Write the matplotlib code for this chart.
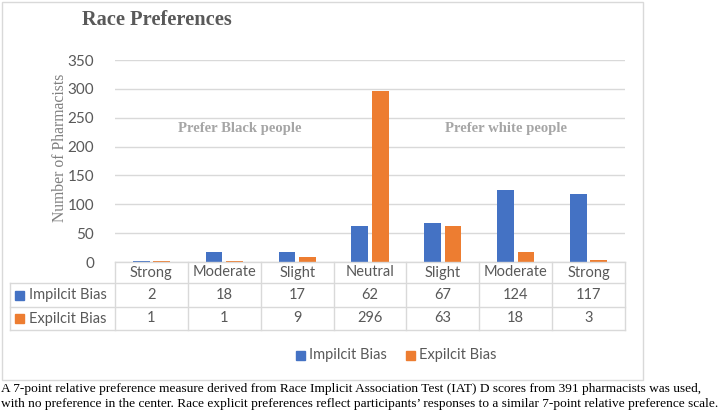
import numpy as np
import matplotlib.pyplot as plt
from matplotlib.patches import Rectangle
from matplotlib.lines import Line2D

categories = ["Strong", "Moderate", "Slight", "Neutral", "Slight", "Moderate", "Strong"]
implicit = [2, 18, 17, 62, 67, 124, 117]
explicit = [1, 1, 9, 296, 63, 18, 3]
series_names = ["Impilcit Bias", "Expilcit Bias"]
yticks = [0, 50, 100, 150, 200, 250, 300, 350]

blue = "#4472C4"
orange = "#ED7D31"
grey_text = "#595959"
grid_col = "#D9D9D9"
sans = "Lato"

W, H = 721, 417
fig = plt.figure(figsize=(W / 100, H / 100), dpi=100)

def fx(px):
    return px / W

def fy(py):
    return 1 - py / H

# outer chart border
fig.add_artist(Rectangle((fx(2), fy(380)), fx(641), fy(2) - fy(380), transform=fig.transFigure,
                         fill=False, edgecolor=grid_col, linewidth=1))

ax = fig.add_axes([fx(115), fy(262), fx(625) - fx(115), fy(60) - fy(262)])
x = np.arange(len(categories))
bw = 0.23
ax.bar(x - 0.14, implicit, bw, color=blue, label=series_names[0])
ax.bar(x + 0.14, explicit, bw, color=orange, label=series_names[1])
ax.set_xlim(-0.5, len(categories) - 0.5)
ax.set_ylim(0, 350)
ax.set_yticks(yticks)
ax.set_yticklabels([str(t) for t in yticks], fontsize=11, color=grey_text, family=sans)
ax.tick_params(axis="y", length=0, pad=15)
ax.set_xticks([])
ax.grid(axis="y", color=grid_col, linewidth=1)
ax.set_axisbelow(True)
for s in ax.spines.values():
    s.set_visible(False)

fig.text(fx(60), fy(148), "Number of Pharmacists", rotation=90, ha="center", va="center",
         fontsize=11.3, color="#7f7f7f", family="Liberation Serif")

ax.text(1.21, 232, "Prefer Black people", fontsize=10.6, color="#a6a6a6", family="Liberation Serif",
        fontweight="bold", ha="center", va="center")
ax.text(4.86, 232, "Prefer white people", fontsize=10.6, color="#a6a6a6", family="Liberation Serif",
        fontweight="bold", ha="center", va="center")

# data table below axis
rows_y = [262, 283, 307, 330]
left_px = 10
for py in rows_y[1:]:
    fig.add_artist(Line2D([fx(left_px), fx(625)], [fy(py), fy(py)], color=grid_col, lw=1))
fig.add_artist(Line2D([fx(115), fx(625)], [fy(262), fy(262)], color=grid_col, lw=1))
fig.add_artist(Line2D([fx(left_px), fx(left_px)], [fy(283), fy(330)], color=grid_col, lw=1))
col_w = (625 - 115) / len(categories)
for i in range(len(categories) + 1):
    px = 115 + i * col_w
    fig.add_artist(Line2D([fx(px), fx(px)], [fy(262), fy(330)], color=grid_col, lw=1))

for i, c in enumerate(categories):
    cx = fx(115 + (i + 0.5) * col_w)
    fig.text(cx, fy(272.5), c, ha="center", va="center", fontsize=10.5, color=grey_text, family=sans)
    fig.text(cx, fy(295), str(implicit[i]), ha="center", va="center", fontsize=10.5,
             color=grey_text, family=sans)
    fig.text(cx, fy(318.5), str(explicit[i]), ha="center", va="center", fontsize=10.5,
             color=grey_text, family=sans)

for py, name, col in [(295, series_names[0], blue), (318.5, series_names[1], orange)]:
    fig.add_artist(Rectangle((fx(15), fy(py + 4.5)), fx(9), fy(py - 4.5) - fy(py + 4.5),
                             transform=fig.transFigure, color=col))
    fig.text(fx(29), fy(py), name, ha="left", va="center", fontsize=10.5, color=grey_text, family=sans)

# legend
for lx, name, col in [(296, series_names[0], blue), (406, series_names[1], orange)]:
    fig.add_artist(Rectangle((fx(lx), fy(360)), fx(9), fy(351) - fy(360),
                             transform=fig.transFigure, color=col))
    fig.text(fx(lx + 13), fy(355.5), name, ha="left", va="center", fontsize=10.5,
             color=grey_text, family=sans)

fig.text(fx(82), fy(20), "Race Preferences", ha="left", va="center", fontsize=14.7,
         fontweight="bold", color=grey_text, family="Liberation Serif")

caption = ("A 7-point relative preference measure derived from Race Implicit Association Test (IAT) D scores from 391 pharmacists was used,\n"
           "with no preference in the center. Race explicit preferences reflect participants\u2019 responses to a similar 7-point relative preference scale.")
fig.text(fx(1), fy(383), caption, ha="left", va="top", fontsize=9.6, color="black",
         family="Liberation Serif", linespacing=1.3)

fig.savefig("out.png", dpi=100)
